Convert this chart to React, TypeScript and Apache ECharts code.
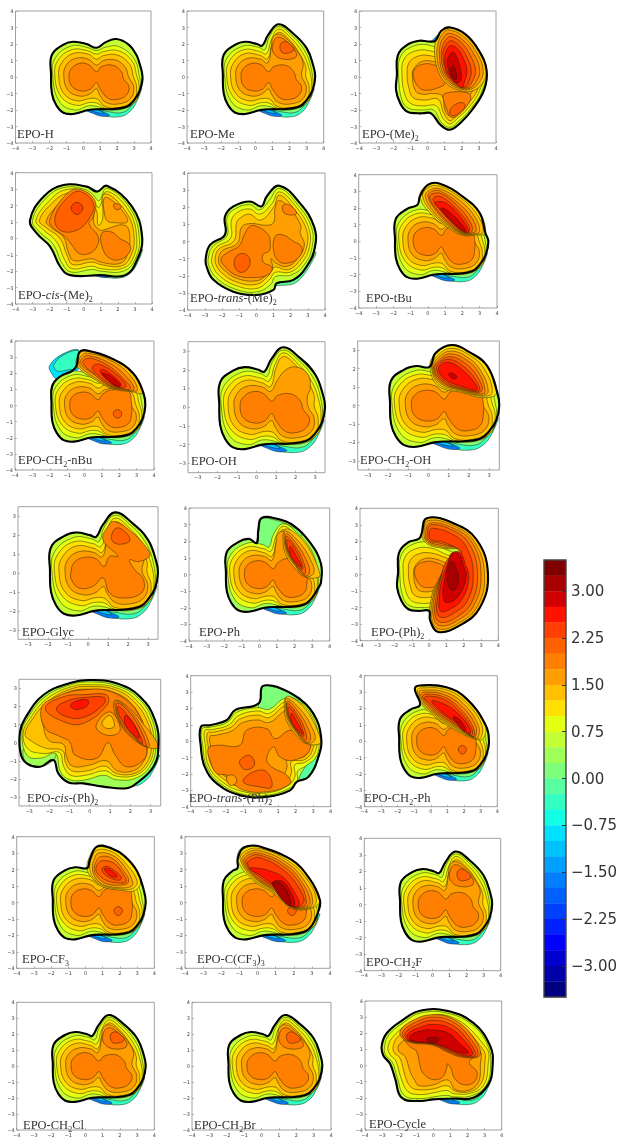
import React, { useEffect, useRef } from "react";
import * as echarts from "echarts";

type Pt = number[];
type Layer = [number, Pt[]];

const levelStarts = [3.25, 3, 2.75, 2.5, 2.25, 2, 1.75, 1.5, 1.25, 1, 0.75, 0.5, 0.25, 0, -0.25, -0.5, -0.75, -1, -1.25, -1.5, -1.75, -2, -2.25, -2.5, -2.75, -3, -3.25, -3.5];
const levelColors = ["#800000", "#a80000", "#d00000", "#ff1200", "#ff4000", "#ff6000", "#ff8000", "#ff9e00", "#ffc000", "#ffe000", "#e5ff12", "#c3ff34", "#a0ff57", "#7dff7a", "#57ffa0", "#34ffc3", "#12ffe5", "#00e0ff", "#00c0ff", "#00a0ff", "#0080ff", "#0060ff", "#0040ff", "#0020ff", "#0000ff", "#0000d0", "#0000a8", "#000080"];
const colorbarTicks = [3, 2.25, 1.5, 0.75, 0, -0.75, -1.5, -2.25, -3];
const ticks4 = [-4, -3, -2, -1, 0, 1, 2, 3, 4];
const ticks3 = [-3, -2, -1, 0, 1, 2, 3];

// under-crescent
const U0: Pt[] = [[0.3, -1.9], [0.6, -2.1], [1.2, -2.35], [2.2, -2.4], [2.75, -2.1], [3.1, -1.6], [3.45, -0.7], [3.3, -0.8], [2.5, -1.6], [1.5, -1.8], [0.6, -1.8]];
const U1: Pt[] = [[0.8, -1.9], [1.5, -2.1], [2.3, -2.15], [2.8, -1.8], [3.3, -1.0], [2.6, -1.6], [1.6, -1.8]];
const UB0: Pt[] = [[0.15, -1.98], [0.55, -2.2], [1.1, -2.38], [1.55, -2.32], [1.15, -2.1], [0.7, -1.95]];
const UB1: Pt[] = [[0.4, -1.98], [0.8, -2.15], [1.2, -2.2], [0.9, -2.0]];
const under: Layer[] = [[-0.5, U0], [0, U1], [-1.75, UB0], [-1.25, UB1]];

// two-lobe base
const B0: Pt[] = [[-1.9, 0.1], [-1.86, 1.33], [-1.2, 1.95], [-0.6, 2.14], [0.2, 2.0], [0.78, 1.77], [1.3, 2.1], [1.96, 2.3], [2.7, 1.95], [3.14, 1.33], [3.3, 0.9], [3.5, 0], [3.35, -0.8], [3.0, -1.4], [2.55, -1.8], [1.6, -1.95], [0.98, -1.95], [0.3, -2.0], [-0.6, -2.24], [-1.2, -2.15], [-1.6, -1.7], [-1.85, -1]];
const B1: Pt[] = [[-1.8, 0.06], [-1.65, 1.15], [-0.7, 1.88], [0.2, 1.8], [0.78, 1.6], [1.3, 1.8], [2.1, 1.85], [3.0, 1.1], [3.3, 0.1], [3.35, -0.7], [3.0, -1.55], [2.3, -1.95], [1.3, -1.95], [0.85, -1.8], [0.3, -1.75], [-0.5, -2.0], [-1.4, -1.5]];
const B2: Pt[] = [[-1.68, 0.06], [-1.5, 1.0], [-0.7, 1.65], [0.25, 1.6], [0.78, 1.38], [1.2, 1.55], [2.1, 1.58], [2.9, 0.95], [3.15, 0.1], [3.3, -0.6], [3.1, -1.45], [2.3, -1.9], [1.3, -1.9], [0.85, -1.6], [0.35, -1.55], [-0.4, -1.72], [-1.3, -1.2]];
const B3: Pt[] = [[-1.45, 0.06], [-1.28, 0.85], [-0.6, 1.42], [0.3, 1.38], [0.78, 1.08], [1.2, 1.3], [2.05, 1.32], [2.75, 0.75], [2.95, 0.05], [3.15, -0.6], [3.0, -1.4], [2.25, -1.82], [1.3, -1.8], [0.85, -1.35], [0.4, -1.3], [-0.35, -1.45], [-1.15, -1.0]];
const B4: Pt[] = [[-1.15, 0.06], [-1.0, 0.72], [-0.45, 1.13], [0.3, 1.08], [0.78, 0.72], [1.2, 1.0], [1.95, 1.02], [2.5, 0.55], [2.68, 0.0], [2.98, -0.6], [2.8, -1.3], [2.15, -1.62], [1.35, -1.55], [0.95, -1.05], [0.78, -0.72], [0.35, -1.05], [-0.25, -1.15], [-0.9, -0.8]];
const B5: Pt[] = [[-0.84, 0.06], [-0.69, 0.52], [-0.2, 0.83], [0.35, 0.73], [0.78, 0.32], [1.08, 0.63], [1.76, 0.71], [2.25, 0.32], [2.39, -0.14], [2.7, -0.58], [2.55, -1.09], [2.06, -1.35], [1.47, -1.29], [0.98, -0.69], [0.78, -0.34], [0.39, -0.75], [-0.2, -0.83], [-0.69, -0.54]];
const T5: Pt[] = [[-0.85, 0.05], [-0.7, 0.55], [-0.2, 0.82], [0.35, 0.73], [0.78, 0.35], [1.05, 0.7], [1.5, 0.95], [2.5, 0.9], [2.7, 0.2], [2.7, -0.58], [2.55, -1.09], [2.06, -1.35], [1.47, -1.29], [0.98, -0.69], [0.78, -0.34], [0.39, -0.75], [-0.2, -0.83], [-0.69, -0.54]];
const dot: Pt[] = [[1.65, -0.5], [1.9, -0.25], [2.15, -0.5], [1.9, -0.8]];
const baseRings: Layer[] = [[0.75, B1], [1, B2], [1.25, B3], [1.5, B4]];

// lobes with the upper right bump
const A0: Pt[] = [[-1.9, 0.1], [-1.86, 1.33], [-1.2, 1.95], [-0.6, 2.14], [0.1, 2.0], [0.4, 1.9], [0.75, 2.55], [1.35, 3.2], [2.2, 2.65], [3.0, 1.75], [3.4, 0.65], [3.5, 0], [3.35, -0.8], [3.0, -1.4], [2.55, -1.8], [1.6, -1.95], [0.98, -1.95], [0.3, -2.0], [-0.6, -2.24], [-1.2, -2.15], [-1.6, -1.7], [-1.85, -1]];
const A1: Pt[] = [[-1.8, 0.06], [-1.65, 1.15], [-0.7, 1.88], [0.2, 1.8], [0.55, 1.65], [0.8, 2.4], [1.35, 3.05], [2.1, 2.55], [2.85, 1.65], [3.25, 0.6], [3.35, -0.7], [3.0, -1.55], [2.3, -1.95], [1.3, -1.95], [0.85, -1.8], [0.3, -1.75], [-0.5, -2.0], [-1.4, -1.5]];
const A2: Pt[] = [[-1.68, 0.06], [-1.5, 1.0], [-0.7, 1.65], [0.25, 1.55], [0.65, 1.4], [0.95, 2.3], [1.35, 2.9], [2, 2.45], [2.75, 1.5], [3.15, 0.5], [3.3, -0.6], [3.1, -1.45], [2.3, -1.9], [1.3, -1.9], [0.85, -1.6], [0.35, -1.55], [-0.4, -1.72], [-1.3, -1.2]];
const A3: Pt[] = [[-1.45, 0.06], [-1.28, 0.85], [-0.6, 1.42], [0.3, 1.3], [0.72, 1.1], [1.0, 2.1], [1.35, 2.7], [1.95, 2.3], [2.6, 1.4], [2.95, 0.6], [2.95, 0.05], [3.15, -0.6], [3.0, -1.4], [2.25, -1.82], [1.3, -1.8], [0.85, -1.35], [0.4, -1.3], [-0.35, -1.45], [-1.15, -1.0]];
const A4: Pt[] = [[-1.15, 0.06], [-1.0, 0.72], [-0.45, 1.13], [0.3, 1.08], [0.72, 0.85], [0.95, 1.9], [1.0, 2.35], [1.35, 2.6], [1.95, 2.2], [2.55, 1.4], [2.8, 0.8], [2.7, 0.1], [2.98, -0.6], [2.8, -1.3], [2.15, -1.62], [1.35, -1.55], [0.95, -1.05], [0.78, -0.72], [0.35, -1.05], [-0.25, -1.15], [-0.9, -0.8]];
const A5: Pt[] = [[1.0, 1.9], [1.3, 2.4], [1.9, 2.1], [2.4, 1.45], [2.3, 1.15], [1.55, 1.1], [1.1, 1.4]];
const A6: Pt[] = [[1.45, 1.95], [1.7, 2.15], [2.0, 2.0], [2.25, 1.65], [1.9, 1.45], [1.55, 1.5]];
const bumpRings: Layer[] = [[0.75, A1], [1, A2], [1.25, A3], [1.5, A4]];

const G5: Pt[] = [[-0.85, 0.05], [-0.7, 0.55], [-0.2, 0.82], [0.4, 0.75], [0.8, 0.35], [1.08, 0.88], [1.5, 0.88], [0.75, 1.75], [1, 2.46], [1.33, 2.72], [2.25, 2.1], [3, 1.23], [3.08, 0.88], [2.5, 0.6], [2.08, 0.7], [2.33, 0.18], [2.78, -0.35], [2.67, -1.05], [1.75, -1.32], [1.08, -1.05], [0.75, -0.26], [0.25, -0.7], [-0.42, -0.8], [-0.83, -0.35]];
const G6: Pt[] = [[1.17, 1.93], [1.42, 2.37], [1.83, 2.2], [2.1, 1.75], [1.83, 1.55], [1.33, 1.58]];
const OH4: Pt[] = [[-1.15, 0.06], [-1.0, 0.72], [-0.45, 1.13], [0.3, 1.08], [0.72, 0.85], [1.1, 1.5], [1.5, 2.0], [2.0, 2.15], [2.6, 1.8], [2.75, 1.0], [2.6, 0.6], [2.65, 0.0], [2.95, -0.6], [2.8, -1.3], [2.15, -1.62], [1.35, -1.55], [0.95, -1.05], [0.78, -0.72], [0.35, -1.05], [-0.25, -1.15], [-0.9, -0.8]];

// EPO-(Me)2 and EPO-(Ph)2 left part
const D0: Pt[] = [[-1.8, 0.1], [-1.75, 1.3], [-1.2, 1.95], [-0.5, 2.2], [0.1, 2.15], [0.45, 2.2], [0.8, 2.8], [1.3, 3.0], [2.2, 2.6], [3, 1.6], [3.45, 0.4], [3.3, -0.8], [2.6, -2], [1.9, -2.8], [1.3, -3.2], [0.75, -2.9], [0.2, -2.2], [-0.3, -2.2], [-0.6, -2.2], [-1.2, -2.1], [-1.6, -1.6], [-1.85, -0.8]];
const D1: Pt[] = [[-1.7, 0.1], [-1.6, 1.2], [-1, 1.8], [0, 1.95], [1, 1.5], [3.3, 0.4], [3.2, -0.8], [2.5, -1.95], [1.8, -2.7], [1.3, -3.05], [0.8, -2.75], [0.35, -2], [-0.3, -2], [-1.1, -1.9], [-1.5, -1.4]];
const D2: Pt[] = [[-1.5, 0.1], [-1.4, 1.05], [-0.8, 1.55], [0.1, 1.6], [1, 1.2], [3.2, 0.3], [3.05, -0.8], [2.4, -1.85], [1.7, -2.55], [1.3, -2.85], [0.9, -2.5], [0.5, -1.75], [-0.3, -1.75], [-1, -1.6], [-1.35, -1]];
const D3: Pt[] = [[-1.2, 0.1], [-1.1, 0.85], [-0.6, 1.25], [0.1, 1.3], [1, 1], [3.1, 0.2], [2.9, -0.8], [2.3, -1.7], [1.65, -2.4], [1.3, -2.65], [0.95, -2.2], [0.6, -1.35], [-0.2, -1.4], [-0.85, -1.25], [-1.1, -0.65]];
const D4: Pt[] = [[-0.9, 0.1], [-0.75, 0.6], [-0.3, 0.95], [0.3, 0.95], [1, 0.7], [3, 0.1], [2.7, -0.7], [2.2, -1.5], [1.6, -2.2], [1.25, -2.35], [1, -1.95], [0.85, -1.15], [0.3, -1.0], [-0.25, -1.05], [-0.7, -0.85]];
const D5: Pt[] = [[-0.85, 0.1], [-0.7, 0.55], [-0.25, 0.78], [0.3, 0.75], [0.9, 0.4], [1, -0.4], [0.6, -0.65], [0, -0.8], [-0.5, -0.65]];
const D6: Pt[] = [[0.9, -1.2], [1, -1.0], [2, -0.9], [2.5, -1.1], [2.4, -1.6], [1.8, -2.3], [1.4, -2.45], [1.15, -2.05]];
const D7: Pt[] = [[1.3, -2.1], [1.5, -1.75], [2.0, -1.55], [2.2, -1.75], [1.8, -2.2], [1.45, -2.35]];
const DB: Pt[] = [[0.2, 2.1], [0.35, 2.3], [0.7, 2.6], [0.7, 2.0]];

const E0: Pt[] = [[0.43, 1.2], [0.45, 2.1], [0.8, 2.8], [1.25, 3.05], [2.2, 2.6], [3, 1.6], [3.45, 0.4], [3.2, -0.4], [2.6, -0.85], [1.8, -0.8], [1, -0.3], [0.6, 0.4]];
const E1: Pt[] = [[0.55, 1.2], [0.6, 2], [0.9, 2.65], [1.25, 2.85], [2.1, 2.45], [2.85, 1.5], [3.25, 0.4], [3, -0.35], [2.5, -0.75], [1.8, -0.7], [1.05, -0.2], [0.7, 0.45]];
const E2: Pt[] = [[0.7, 1.2], [0.72, 1.9], [1, 2.5], [1.3, 2.65], [2, 2.3], [2.7, 1.4], [3.05, 0.4], [2.8, -0.35], [2.4, -0.7], [1.8, -0.62], [1.1, -0.1], [0.8, 0.5]];
const E3: Pt[] = [[0.8, 1.2], [0.85, 1.8], [1.1, 2.3], [1.35, 2.45], [1.95, 2.1], [2.5, 1.3], [2.8, 0.4], [2.6, -0.3], [2.3, -0.65], [1.8, -0.55], [1.15, 0], [0.9, 0.55]];
const E4: Pt[] = [[0.9, 1.2], [0.95, 1.7], [1.2, 2.1], [1.4, 2.2], [1.85, 1.9], [2.3, 1.2], [2.55, 0.4], [2.4, -0.3], [2.2, -0.6], [1.8, -0.5], [1.2, 0.05], [1, 0.6]];
const E5: Pt[] = [[1.0, 1.1], [1.1, 1.6], [1.35, 1.9], [1.75, 1.7], [2.1, 1.1], [2.3, 0.4], [2.15, -0.3], [2, -0.65], [1.7, -0.4], [1.25, 0.1], [1.05, 0.6]];
const E6: Pt[] = [[1.15, 1.0], [1.3, 1.35], [1.5, 1.5], [1.75, 1.1], [1.95, 0.3], [1.95, -0.2], [1.7, -0.35], [1.35, 0.05], [1.2, 0.55]];
const E7: Pt[] = [[1.35, 0.5], [1.45, 0.7], [1.6, 0.5], [1.7, -0.1], [1.5, -0.1], [1.38, 0.15]];

// EPO-CF3
const CFS: Pt[] = [[-1.9, 0.1], [-1.86, 1.33], [-1.2, 1.95], [-0.6, 2.14], [0.1, 2.1], [0.25, 2.6], [0.66, 3.4], [1.5, 3.3], [2.3, 2.8], [3.0, 1.9], [3.4, 0.7], [3.5, 0], [3.35, -0.8], [3, -1.4], [2.55, -1.8], [1.6, -1.95], [0.98, -1.95], [0.3, -2], [-0.6, -2.24], [-1.2, -2.15], [-1.6, -1.7], [-1.85, -1]];
const CF0: Pt[] = [[0.1, 2.0], [0.2, 2.7], [0.65, 3.35], [1.6, 3.2], [2.5, 2.5], [3.2, 1.4], [2.9, 0.75], [2, 0.75], [1, 0.95], [0.45, 1.4]];
const CF1: Pt[] = [[0.25, 2], [0.35, 2.7], [0.7, 3.2], [1.6, 3.05], [2.4, 2.3], [3, 1.3], [2.75, 0.85], [2, 0.82], [1, 1.02], [0.5, 1.45]];
const CF2: Pt[] = [[0.4, 2.1], [0.5, 2.6], [0.75, 3.0], [1.6, 2.85], [2.3, 2.15], [2.75, 1.2], [2.6, 0.95], [1.9, 0.9], [1, 1.1], [0.55, 1.55]];
const CF3: Pt[] = [[0.5, 2], [0.6, 2.45], [0.9, 2.8], [1.6, 2.65], [2.2, 1.95], [2.5, 1.25], [1.9, 1.05], [1.1, 1.2], [0.65, 1.6]];
const CF4: Pt[] = [[0.6, 2], [0.75, 2.4], [1.1, 2.55], [1.7, 2.35], [2.2, 1.7], [2.35, 1.25], [1.8, 1.2], [1.2, 1.35], [0.8, 1.65]];
const CF5: Pt[] = [[0.95, 2.05], [1.2, 2.2], [1.6, 2], [2.1, 1.5], [1.9, 1.35], [1.35, 1.55], [1.05, 1.8]];
const CF6: Pt[] = [[1.1, 2.05], [1.35, 2.05], [1.85, 1.6], [1.6, 1.55], [1.25, 1.8]];

// EPO-CH2-nBu
const NS: Pt[] = [[-1.9, 0.1], [-1.86, 1.2], [-1.4, 1.8], [-0.7, 2.15], [-0.45, 2.5], [-0.3, 3.3], [0.1, 3.42], [1.6, 2.9], [2.8, 2], [3.4, 0.75], [3.5, 0], [3.35, -0.8], [3, -1.4], [2.55, -1.8], [1.6, -1.95], [0.98, -1.95], [0.3, -2], [-0.6, -2.24], [-1.2, -2.15], [-1.6, -1.7], [-1.85, -1]];
const TB0: Pt[] = [[-2, 2.5], [-1.9, 2], [-1.5, 1.6], [-1, 1.95], [-0.4, 2.2], [-0.3, 3.4], [-1.15, 3.25]];
const TB1: Pt[] = [[-1.75, 2.55], [-1.6, 2.15], [-1, 2.2], [-0.4, 2.4], [-0.3, 3.35], [-1.1, 3.2]];
const N0: Pt[] = [[-0.45, 2.5], [-0.3, 3.2], [0.1, 3.4], [1.6, 2.9], [2.8, 2], [3.35, 0.8], [2.7, 0.85], [1.6, 1.05], [0.5, 1.67]];
const N1: Pt[] = [[-0.35, 2.55], [-0.2, 3.05], [0.15, 3.25], [1.5, 2.8], [2.6, 1.9], [3.05, 0.95], [2.6, 0.92], [1.6, 1.1], [0.55, 1.75]];
const N2: Pt[] = [[-0.25, 2.6], [-0.1, 2.95], [0.2, 3.1], [1.4, 2.65], [2.4, 1.8], [2.85, 0.98], [2.2, 1], [1.5, 1.2], [0.65, 1.85]];
const N3: Pt[] = [[-0.1, 2.65], [0.1, 2.9], [0.5, 2.9], [1.4, 2.45], [2.2, 1.7], [2.65, 1.05], [1.9, 1.1], [1.2, 1.4], [0.5, 2]];
const N4: Pt[] = [[0.45, 2.3], [0.6, 2.55], [1, 2.5], [1.75, 2], [2.4, 1.25], [2.1, 1.1], [1.3, 1.45], [0.7, 1.95]];
const N5: Pt[] = [[0.9, 2.1], [1, 2.25], [1.5, 1.95], [2.1, 1.35], [2, 1.15], [1.4, 1.5]];
const N6: Pt[] = [[1.0, 2.0], [1.6, 1.75], [2.05, 1.25], [1.85, 1.2], [1.3, 1.65]];

// EPO-CH2-OH
const HS: Pt[] = [[-1.9, 0.1], [-1.86, 1.33], [-1.2, 1.95], [-0.6, 2.14], [0.05, 2.1], [0.35, 2.85], [1.14, 3.28], [2.05, 2.88], [2.9, 2.15], [3.4, 0.7], [3.5, 0], [3.35, -0.8], [3, -1.4], [2.55, -1.8], [1.6, -1.95], [0.98, -1.95], [0.3, -2], [-0.6, -2.24], [-1.2, -2.15], [-1.6, -1.7], [-1.85, -1]];
const H0: Pt[] = [[0.07, 2.13], [0.35, 2.8], [1.14, 3.25], [2.05, 2.86], [2.87, 2.13], [3.37, 0.7], [2.7, 0.42], [1.72, 0.69], [0.5, 1.05]];
const H1: Pt[] = [[0.15, 2.1], [0.45, 2.7], [1.1, 3.1], [2, 2.75], [2.75, 2], [3.15, 0.7], [2.65, 0.5], [1.7, 0.75], [0.55, 1.12]];
const H2: Pt[] = [[0.2, 2.05], [0.5, 2.6], [1.1, 2.95], [1.95, 2.6], [2.6, 1.85], [2.95, 0.75], [2.6, 0.55], [1.7, 0.8], [0.6, 1.2]];
const H3: Pt[] = [[0.25, 2], [0.55, 2.5], [1.1, 2.8], [1.9, 2.45], [2.5, 1.75], [2.8, 0.75], [2.55, 0.62], [1.7, 0.85], [0.65, 1.25]];
const H4: Pt[] = [[0.3, 2], [0.55, 2.4], [1.1, 2.65], [1.8, 2.3], [2.4, 1.6], [2.62, 0.78], [1.7, 0.88], [0.7, 1.3]];
const H5: Pt[] = [[0.4, 1.95], [0.55, 2.3], [1.05, 2.5], [1.7, 2.15], [2.3, 1.45], [2.5, 0.8], [1.75, 0.92], [0.75, 1.35]];
const H6: Pt[] = [[0.5, 1.9], [0.6, 2.2], [1, 2.35], [1.6, 2], [2.2, 1.35], [2.4, 0.85], [1.8, 0.98], [0.85, 1.4]];
const H7: Pt[] = [[1, 1.7], [1.2, 1.75], [1.4, 1.55], [1.2, 1.45]];

// EPO-tBu
const TS: Pt[] = [[-1.9, 0.1], [-1.86, 1.33], [-1.2, 1.95], [-0.6, 2.2], [-0.46, 2.7], [0.02, 3.4], [0.7, 3.46], [2, 2.7], [3, 1.7], [3.33, 0.5], [3.5, 0], [3.35, -0.8], [3, -1.4], [2.55, -1.8], [1.6, -1.95], [0.98, -1.95], [0.3, -2], [-0.6, -2.24], [-1.2, -2.15], [-1.6, -1.7], [-1.85, -1]];
const L0: Pt[] = [[-0.46, 2.7], [0, 3.4], [0.7, 3.46], [2, 2.7], [3, 1.7], [3.33, 0.5], [2.8, 0.38], [1.94, 0.38], [1.08, 0.88], [0.3, 1.5]];
const L1: Pt[] = [[-0.3, 2.7], [0.05, 3.25], [0.7, 3.3], [1.9, 2.6], [2.85, 1.6], [3.2, 0.55], [2.7, 0.42], [1.95, 0.42], [1.1, 0.95], [0.35, 1.6]];
const L2: Pt[] = [[-0.15, 2.7], [0.15, 3.1], [0.7, 3.15], [1.85, 2.45], [2.7, 1.5], [3, 0.6], [2.65, 0.45], [2, 0.45], [1.15, 1], [0.4, 1.7]];
const L3: Pt[] = [[0, 2.7], [0.25, 3], [0.7, 3.02], [1.75, 2.3], [2.55, 1.4], [2.8, 0.65], [2.55, 0.5], [2, 0.5], [1.2, 1.05], [0.5, 1.8]];
const L4: Pt[] = [[0.1, 2.65], [0.35, 2.88], [0.8, 2.85], [1.65, 2.2], [2.4, 1.25], [2.55, 0.6], [2.05, 0.52], [1.25, 1.1], [0.55, 1.85]];
const L5: Pt[] = [[0.3, 2.5], [0.5, 2.7], [0.9, 2.6], [1.6, 2], [2.3, 1.1], [2.4, 0.6], [2.05, 0.58], [1.3, 1.2], [0.65, 1.95]];
const L6: Pt[] = [[0.4, 2.3], [0.7, 2.4], [1.2, 2.2], [2, 1.3], [2.35, 0.6], [2.05, 0.6], [1.35, 1.2], [0.75, 1.9]];
const L7: Pt[] = [[0.75, 1.95], [0.85, 2], [1.2, 1.8], [1.9, 1.1], [2.2, 0.62], [1.9, 0.72], [1.4, 1.2]];

// EPO-Ph
const PS: Pt[] = [[-1.9, 0.1], [-1.86, 1.33], [-1.2, 1.95], [-0.6, 2.14], [-0.15, 1.9], [-0.06, 2.7], [0.13, 3.4], [1, 3.35], [2, 2.9], [2.9, 1.9], [3.5, 0.66], [3.5, -0.5], [3.35, -0.8], [3, -1.4], [2.55, -1.8], [1.6, -1.95], [0.98, -1.95], [0.3, -2], [-0.6, -2.24], [-1.2, -2.15], [-1.6, -1.7], [-1.85, -1]];
const P1: Pt[] = [[-0.1, 1.9], [0, 2.7], [0.13, 3.35], [0.8, 3.3], [1.6, 3], [2.4, 2.4], [1.5, 1.8], [0.5, 1.6]];
const PL0: Pt[] = [[1.45, 2.7], [1.9, 2.6], [2.6, 1.9], [3.1, 1], [3.4, 0.2], [3.4, -0.15], [2.6, -0.15], [2, 0.4], [1.5, 1.2], [1.35, 2]];
const PL1: Pt[] = [[1.5, 2.6], [2.3, 1.9], [2.9, 0.9], [3.1, 0.1], [2.6, -0.12], [2.05, 0.5], [1.6, 1.2], [1.42, 2]];
const PL2: Pt[] = [[1.55, 2.45], [2.15, 1.8], [2.7, 0.8], [2.85, 0.1], [2.6, -0.08], [2.1, 0.5], [1.65, 1.25], [1.48, 1.95]];
const PL3: Pt[] = [[1.55, 2.3], [2.05, 1.7], [2.5, 0.8], [2.6, 0.05], [2.15, 0.5], [1.7, 1.25], [1.52, 1.85]];
const PL4: Pt[] = [[1.6, 2.1], [2, 1.6], [2.4, 0.7], [2.45, 0.3], [2.15, 0.55], [1.75, 1.2], [1.58, 1.75]];
const PL5: Pt[] = [[1.75, 1.7], [2.1, 1.1], [2.4, 0.45], [2.2, 0.6], [1.8, 1.1]];

// EPO-(Ph)2
const QS: Pt[] = [[-1.8, 0.1], [-1.75, 1.3], [-1.2, 1.95], [-0.6, 2.15], [-0.43, 2.5], [-0.14, 3.4], [1.4, 3.1], [2.75, 2.1], [3.4, 0.05], [2.94, -2], [1.8, -3.06], [0.53, -3.47], [0.05, -2.76], [0.0, -2.2], [-0.6, -2.2], [-1.2, -2.1], [-1.6, -1.6], [-1.85, -0.8]];
const Q0: Pt[] = [[-0.43, 2.5], [-0.14, 3.4], [1.4, 3.1], [2.75, 2.1], [3.4, 0.05], [2.94, -2], [1.8, -3.06], [0.53, -3.47], [0.05, -2.76], [0.14, -1.35], [0.43, -0.54], [1.1, 0.66], [1.69, 1.47], [0.82, 1.57], [-0.14, 1.87]];
const Q1: Pt[] = [[-0.3, 2.5], [-0.05, 3.25], [1.4, 2.95], [2.6, 2], [3.2, 0.05], [2.8, -1.9], [1.7, -2.95], [0.6, -3.3], [0.15, -2.7], [0.22, -1.35], [0.5, -0.5], [1.1, 0.7], [1.8, 1.5], [0.8, 1.65], [-0.1, 1.95]];
const Q2: Pt[] = [[-0.2, 2.5], [0.05, 3.1], [1.4, 2.8], [2.5, 1.9], [3, 0.05], [2.6, -1.85], [1.6, -2.8], [0.65, -3.1], [0.25, -2.6], [0.3, -1.35], [0.55, -0.45], [1.1, 0.75], [1.9, 1.55], [0.8, 1.75], [-0.05, 2]];
const Q3: Pt[] = [[-0.1, 2.5], [0.1, 3], [1.4, 2.65], [2.35, 1.8], [2.8, 0.05], [2.45, -1.7], [1.55, -2.6], [0.7, -2.9], [0.35, -2.5], [0.4, -1.35], [0.6, -0.4], [1.1, 0.85], [1.9, 1.4], [0.8, 1.85], [0, 2.05]];
const Q4: Pt[] = [[0, 2.55], [0.2, 2.8], [1.4, 2.4], [2.15, 1.65], [2.55, 0.05], [2.2, -1.6], [1.4, -2.35], [0.75, -2.6], [0.45, -2.3], [0.5, -1.35], [0.65, -0.35], [1.1, 0.95], [1.9, 1.3], [0.85, 1.95], [0.1, 2.1]];
const Q5: Pt[] = [[1.3, 1.3], [1.8, 1.3], [2.1, 0.6], [2.3, -0.2], [1.9, -1.5], [1.2, -2.1], [0.65, -2.2], [0.6, -1.2], [0.75, -0.3], [1.1, 0.75]];
const Q6: Pt[] = [[1.35, 1.25], [1.75, 1.2], [2, 0.5], [2.15, -0.1], [1.7, -1.3], [1.0, -1.7], [0.8, -1.2], [0.9, -0.3], [1.1, 0.6]];
const Q7: Pt[] = [[1.3, 0.8], [1.55, 0.4], [1.7, -0.2], [1.5, -0.9], [1.2, -0.85], [1.05, -0.1]];

// EPO-CH2-Ph
const CS: Pt[] = [[-1.9, 0.1], [-1.86, 1.33], [-1.2, 1.95], [-0.7, 2.14], [-0.66, 2.4], [-0.96, 3.2], [-0.66, 3.4], [0.94, 3.3], [2.14, 2.6], [3.25, 1.08], [3.5, 0], [3.35, -0.8], [3, -1.4], [2.55, -1.8], [1.6, -1.95], [0.98, -1.95], [0.3, -2], [-0.6, -2.24], [-1.2, -2.15], [-1.6, -1.7], [-1.85, -1]];
const C0: Pt[] = [[-0.96, 3.2], [-0.66, 3.4], [0.94, 3.3], [2.14, 2.6], [3.25, 1.08], [3.15, 0.16], [2.64, 0.14], [1.34, 0.75], [0.14, 1.58], [-0.66, 2.4]];
const C1: Pt[] = [[-0.8, 3.1], [-0.6, 3.25], [0.9, 3.15], [2.05, 2.45], [3.05, 1.05], [3, 0.2], [2.62, 0.18], [1.36, 0.82], [0.18, 1.65], [-0.6, 2.45]];
const C2: Pt[] = [[-0.7, 3], [-0.5, 3.12], [0.85, 3], [1.95, 2.3], [2.85, 1.0], [2.85, 0.25], [2.6, 0.22], [1.4, 0.88], [0.22, 1.7], [-0.55, 2.5]];
const C3: Pt[] = [[-0.6, 2.85], [-0.4, 3], [0.8, 2.85], [1.85, 2.15], [2.7, 0.95], [2.7, 0.3], [2.55, 0.27], [1.45, 0.95], [0.28, 1.75], [-0.45, 2.5]];
const C4: Pt[] = [[-0.5, 2.75], [-0.25, 2.88], [0.8, 2.7], [1.75, 2], [2.55, 0.85], [2.55, 0.28], [1.5, 1], [0.35, 1.8], [-0.35, 2.5]];
const C5: Pt[] = [[-0.4, 2.65], [-0.1, 2.75], [0.8, 2.55], [1.7, 1.85], [2.45, 0.8], [2.45, 0.35], [1.55, 1.05], [0.45, 1.85], [-0.2, 2.45]];
const C6: Pt[] = [[0.05, 2.45], [0.6, 2.35], [1.4, 1.9], [2.25, 0.95], [2.35, 0.45], [1.6, 1.1], [0.6, 1.85]];
const C7: Pt[] = [[1.35, 1.5], [1.7, 1.35], [2.1, 0.75], [2, 0.6], [1.55, 1.15]];

// EPO-C(CF3)3
const KS: Pt[] = [[-1.9, 0.1], [-1.86, 1.33], [-1.4, 1.9], [-1.1, 2.1], [-1.1, 2.6], [-0.85, 3.25], [-0.4, 3.45], [0.13, 3.4], [1.87, 2.6], [2.9, 1.4], [3.44, 0.16], [3.4, -0.4], [3.0, -1.4], [2.55, -1.8], [1.6, -1.95], [0.98, -1.95], [0.3, -2], [-0.6, -2.24], [-1.2, -2.15], [-1.6, -1.7], [-1.85, -1]];
const KT: Pt[] = [[-1.1, 2.6], [-0.95, 3.25], [-0.4, 3.45], [0, 3.4], [-0.7, 3]];
const K0: Pt[] = [[-1.1, 2.6], [-0.85, 3.2], [0.13, 3.4], [1.87, 2.6], [2.9, 1.4], [3.44, 0.16], [3, -0.34], [1.87, -0.34], [0.9, 0.55], [-0.25, 1.36]];
const K1: Pt[] = [[-0.95, 2.6], [-0.7, 3.1], [0.13, 3.28], [1.8, 2.45], [2.8, 1.3], [3.25, 0.15], [2.95, -0.3], [1.9, -0.3], [0.95, 0.6], [-0.2, 1.42]];
const K2: Pt[] = [[-0.85, 2.55], [-0.6, 3], [0.13, 3.15], [1.7, 2.35], [2.65, 1.2], [3.05, 0.15], [2.85, -0.28], [1.9, -0.27], [1, 0.65], [-0.15, 1.48]];
const K3: Pt[] = [[-0.75, 2.5], [-0.5, 2.9], [0.13, 3], [1.6, 2.25], [2.5, 1.15], [2.9, 0.1], [2.7, -0.25], [1.9, -0.25], [1, 0.7], [-0.1, 1.52]];
const K4: Pt[] = [[-0.65, 2.45], [-0.4, 2.8], [0.13, 2.88], [1.5, 2.15], [2.4, 1.05], [2.7, 0.05], [2.55, -0.22], [1.9, -0.22], [1.05, 0.75], [-0.05, 1.55]];
const K5: Pt[] = [[-0.55, 2.35], [-0.3, 2.65], [0.15, 2.72], [1.4, 2], [2.25, 0.95], [2.55, 0], [1.9, -0.2], [1.1, 0.8], [0.05, 1.6]];
const K6: Pt[] = [[-0.45, 2.05], [-0.1, 2.1], [0.6, 1.95], [1.4, 1.55], [2, 0.7], [2.3, -0.15], [1.9, -0.2], [1.1, 0.85], [0.15, 1.65]];
const K7: Pt[] = [[0.8, 1.2], [1.35, 1.3], [1.85, 0.6], [2.05, -0.18], [1.75, -0.2], [1.0, 0.85]];
const K8: Pt[] = [[0.85, 1.2], [1.3, 1.15], [1.7, 0.5], [1.8, -0.18], [1.4, 0.1], [0.95, 0.85]];

// EPO-Cycle
const Y0: Pt[] = [[-3.02, 1.23], [-2.73, 2], [-1.76, 2.84], [-0.78, 3.4], [0.78, 3.4], [2.34, 2.64], [3.32, 1.23], [3.47, 0], [3.2, -1.2], [2.34, -2], [1.2, -2.05], [0, -2.1], [-0.78, -2.2], [-1.85, -2], [-2.24, -0.8], [-2.54, 0.12], [-2.93, 0.62]];
const Y1: Pt[] = [[-2.85, 1.2], [-2.6, 1.9], [-1.7, 2.7], [-0.78, 3.25], [0.8, 3.25], [2.3, 2.5], [3.2, 1.2], [3.35, 0], [3.1, -1.2], [2.3, -1.85], [1.2, -1.95], [0.8, -1.85], [0, -1.95], [-0.8, -2.05], [-1.7, -1.85], [-2.1, -0.8], [-2.4, 0.2], [-2.8, 0.65]];
const Y2: Pt[] = [[-2.65, 1.2], [-2.3, 1.85], [-1.5, 2.5], [0.8, 3.1], [3.1, 1.1], [3.2, 0], [2.95, -1.2], [2.25, -1.7], [1.2, -1.75], [0.8, -1.55], [0, -1.7], [-0.85, -1.8], [-1.5, -1.6], [-1.9, -0.75], [-2.2, 0.3], [-2.55, 0.7]];
const Y3: Pt[] = [[-2.35, 1.2], [-2.1, 1.75], [-1.3, 2.4], [0.8, 3], [2.9, 1], [3, 0], [2.8, -1.1], [2.2, -1.6], [1.3, -1.6], [0.8, -1.25], [0, -1.45], [-0.9, -1.5], [-1.35, -1.3], [-1.65, -0.65], [-1.95, 0.45], [-2.3, 0.8]];
const Y4: Pt[] = [[-2.05, 1.2], [-1.8, 1.5], [-1.1, 2.2], [0.8, 2.8], [2.7, 0.95], [2.75, 0], [2.65, -1], [2.15, -1.5], [1.3, -1.5], [0.85, -0.9], [0, -1.2], [-0.85, -1.25], [-1.1, -0.9], [-1.35, -0.4], [-1.65, 0.55], [-2, 0.85]];
const Y5: Pt[] = [[-1.75, 1.9], [-1.4, 1.2], [-1.0, 0.9], [-0.8, 0.1], [-0.65, -0.4], [-0.1, -0.85], [0.5, -0.75], [0.8, -0.1], [0.8, 0.1], [1.0, -0.1], [1.25, -0.8], [1.8, -1.2], [2.4, -1], [2.55, -0.4], [2.1, 0.2], [2.6, 0.8], [1, 2], [-0.5, 2.4]];
const Ly0: Pt[] = [[-1.95, 2.1], [-1.1, 2.85], [0, 3.15], [1.2, 2.85], [2.3, 1.8], [2.73, 0.65], [1.76, 0.5], [0.8, 0.85], [0, 1.25], [-1.55, 1.5]];
const Ly1: Pt[] = [[-1.8, 2.05], [-1, 2.7], [0, 3], [1.15, 2.7], [2.15, 1.7], [2.6, 0.65], [1.76, 0.55], [0.8, 0.9], [0, 1.3], [-1.5, 1.53]];
const Ly2: Pt[] = [[-1.65, 2], [-0.9, 2.55], [0, 2.8], [1.1, 2.5], [2, 1.6], [2.45, 0.65], [1.76, 0.6], [0.85, 0.95], [0, 1.33], [-1.45, 1.55]];
const Ly3: Pt[] = [[-1.5, 1.95], [-0.8, 2.35], [0, 2.55], [1, 2.3], [1.85, 1.5], [2.3, 0.7], [1.76, 0.65], [0.9, 1.0], [0, 1.35], [-1.4, 1.55]];
const Ly4: Pt[] = [[-1.35, 1.85], [-0.7, 2.15], [0, 2.2], [0.9, 2.0], [1.5, 1.4], [2.05, 0.8], [1.4, 0.85], [0.85, 1.1], [0, 1.38], [-1.3, 1.55]];
const Ly5: Pt[] = [[-0.4, 1.65], [0, 1.75], [0.3, 1.7], [0.25, 1.5], [-0.1, 1.45]];

// EPO-cis-(Me)2
const S0: Pt[] = [[-3.15, 1.1], [-2.36, 2.54], [-1.18, 3.25], [0.18, 3.15], [0.78, 2.85], [1.36, 3.2], [2.83, 1.93], [3.42, 0.1], [3.13, -1.3], [2.44, -2.24], [0.97, -2.24], [-0.8, -2.24], [-1.38, -1.73], [-1.97, -0.5], [-2.75, 0.3]];
const S1: Pt[] = [[-3, 1.1], [-2.2, 2.45], [-1.15, 3.1], [0, 3], [0.5, 2.7], [0.9, 2.3], [1.35, 3.05], [2.7, 1.85], [3.25, 0.1], [3.0, -1.3], [2.3, -2], [1, -2], [0.5, -1.9], [-0.75, -2.05], [-1.25, -1.55], [-1.8, -0.35], [-2.6, 0.4]];
const S2: Pt[] = [[-2.8, 1.1], [-2, 2.3], [-1.1, 2.95], [0, 2.85], [0.65, 2.1], [0.9, 1.9], [1.35, 2.85], [2.6, 1.75], [3.1, 0.1], [2.85, -1.3], [2.2, -1.85], [1, -1.85], [0.5, -1.7], [-0.7, -1.85], [-1.1, -1.35], [-1.6, -0.2], [-2.4, 0.55]];
const S3: Pt[] = [[-2.6, 1.1], [-1.8, 2.2], [-1, 2.75], [-0.1, 2.7], [0.7, 1.8], [0.85, 0.8], [1.1, 1.15], [1.2, 2.7], [2.45, 1.65], [2.95, 0.1], [2.7, -1.2], [2.15, -1.7], [1, -1.6], [0.5, -1.45], [-0.65, -1.6], [-0.95, -1.1], [-1.4, 0], [-2.2, 0.65]];
const S4: Pt[] = [[-2.2, 1.05], [-1.5, 2.05], [-0.8, 2.6], [-0.1, 2.5], [0.55, 1.8], [0.6, 0.9], [0.95, 0.5], [1.1, 0.5], [2.4, 0.8], [2.7, 0.1], [2.5, -1.15], [2.05, -1.55], [1, -1.45], [0.5, -1.25], [-0.6, -1.35], [-0.9, -0.85], [-1.2, 0.1], [-1.9, 0.65]];
const S5: Pt[] = [[-2.0, 1.1], [-1.1, 2.6], [-0.3, 3.0], [0.65, 2.3], [0.55, 1.3], [0.3, 0.9], [0.85, 0.1], [0.75, -0.55], [0.25, -0.95], [-0.3, -0.9], [-0.7, -0.4], [-1.1, 0.1], [-1.7, 0.55]];
const S5b: Pt[] = [[1.05, 0.3], [1.6, 0.4], [2.1, 0], [2.7, -0.4], [2.65, -0.9], [2.1, -1.3], [1.5, -1.2], [1.1, -0.6]];
const S5c: Pt[] = [[1.2, 2.45], [1.6, 2.35], [2.4, 1.5], [2.55, 1], [1.9, 0.95], [1.4, 1.05], [1.2, 1.6]];
const S5d: Pt[] = [[1.75, 2.05], [2, 2.1], [2.2, 1.9], [1.9, 1.75]];
const S6: Pt[] = [[-1.68, 1.3], [-0.9, 2.54], [-0.2, 2.85], [0.57, 2.13], [0.38, 1.32], [-0.4, 0.5], [-1.38, 0.5]];
const S7: Pt[] = [[-0.75, 1.85], [-0.4, 2.2], [-0.05, 1.85], [-0.4, 1.45]];
const SB: Pt[] = [[0.18, 3.1], [0.5, 3.05], [0.78, 2.8], [0.4, 2.7]];

// EPO-trans-(Me)2
const R0: Pt[] = [[-2.95, -1], [-2.7, -0.2], [-1.83, 0.4], [-1.83, 1.46], [-1.34, 2.05], [-0.37, 2.34], [0.3, 2.05], [0.6, 2.63], [1.34, 3.26], [2.54, 2.24], [3.36, 0.88], [3.42, -0.3], [2.93, -1.46], [2.16, -2.24], [1.18, -2.44], [1, -2.83], [0, -3.12], [-1.34, -2.93], [-2.5, -2.24], [-2.9, -1.46]];
const R1: Pt[] = [[-2.8, -1], [-2.55, -0.3], [-1.7, 0.35], [-1.7, 1.4], [-1.25, 1.9], [-0.4, 2.15], [0.2, 1.85], [0.75, 2.4], [1.34, 3.1], [2.4, 2.15], [3.2, 0.85], [3.25, -0.3], [2.8, -1.35], [2.05, -1.95], [1.1, -2.05], [0.85, -2.5], [0, -2.95], [-1.3, -2.75], [-2.35, -2.1], [-2.75, -1.45]];
const R2: Pt[] = [[-2.6, -1], [-2.35, -0.35], [-1.5, 0.2], [-1.45, 1.25], [-1.1, 1.7], [-0.4, 1.9], [0.2, 1.6], [0.9, 2.2], [1.34, 2.9], [2.3, 2.05], [3.05, 0.8], [3.1, -0.3], [2.65, -1.25], [1.95, -1.8], [1.1, -1.8], [0.75, -2.25], [0, -2.75], [-1.25, -2.55], [-2.2, -1.95], [-2.55, -1.4]];
const R3: Pt[] = [[-2.4, -1], [-2.2, -0.45], [-1.3, 0.05], [-1.15, 1.1], [-0.9, 1.4], [-0.4, 1.6], [0.25, 1.25], [1.0, 2], [1.34, 2.7], [2.2, 1.9], [2.9, 0.75], [2.95, -0.25], [2.5, -1.15], [1.85, -1.65], [1.05, -1.5], [0.7, -2], [0, -2.5], [-1.2, -2.35], [-2.05, -1.8], [-2.35, -1.35]];
const R4: Pt[] = [[-2.2, -1], [-2, -0.55], [-1.1, -0.1], [-0.85, 0.85], [-0.3, 1.05], [0.55, 0.95], [1, 1.1], [1.1, 2], [1.35, 2.4], [2.05, 1.8], [2.6, 0.9], [2.55, 0.5], [2.8, -0.2], [2.4, -1], [1.8, -1.45], [1.1, -1.25], [0.85, -1.0], [0.95, -1.6], [0.6, -1.95], [0, -2.3], [-1.15, -2.15], [-1.9, -1.65], [-2.15, -1.35]];
const R5: Pt[] = [[-2.05, -1], [-1.6, -0.6], [-1, -0.25], [-0.7, 0.4], [-0.35, 0.9], [0.1, 0.85], [0.7, 0.4], [0.8, 0], [0.75, -0.55], [0.4, -0.75], [0.4, -1.2], [0.9, -1.5], [0.75, -1.9], [0, -2.1], [-1.1, -2], [-1.8, -1.5]];
const R5b: Pt[] = [[1.1, 0.3], [1.5, 0.4], [2.1, 0.05], [2.65, -0.35], [2.5, -0.9], [1.9, -1.25], [1.3, -1.15], [1, -0.5]];
const R5c: Pt[] = [[1.55, 2.1], [1.9, 2.15], [2.35, 1.65], [2, 1.55], [1.6, 1.7]];
const R6: Pt[] = [[-1.25, -1], [-0.85, -0.7], [-0.45, -0.9], [-0.4, -1.4], [-0.8, -1.8], [-1.2, -1.6]];
const RU0: Pt[] = [[0.8, -1.9], [1, -2.5], [1.6, -2.55], [2.3, -2.4], [3, -1.6], [3.45, -0.6], [2.4, -1.4], [1.5, -1.8]];
const RU1: Pt[] = [[1.3, -1.9], [2.2, -2], [2.9, -1.5], [3.35, -0.7], [2.4, -1.4]];

// EPO-cis-(Ph)2
const X0: Pt[] = [[-3.45, 0.6], [-3.2, 1.34], [-2.3, 2.63], [-0.98, 3.3], [0, 3.46], [1.32, 3.28], [2.48, 2.54], [3.22, 1.25], [3.39, -0.22], [3.14, -1.33], [2.3, -2.25], [1.82, -2.52], [0.66, -2.43], [-0.32, -2.25], [-1.06, -2.2], [-1.56, -1.7], [-1.8, -0.96], [-2.46, -1.33], [-3.12, -1.14], [-3.42, -0.6]];
const X1: Pt[] = [[-3.35, 0.6], [-3.1, 1.3], [-2.25, 2.5], [-0.95, 3.2], [0, 3.35], [1.3, 3.15], [2.4, 2.45], [3.1, 1.2], [3.25, -0.25], [3, -1.25], [2.3, -1.95], [1.3, -2.05], [0.7, -1.8], [-0.2, -2.05], [-1, -2.05], [-1.45, -1.6], [-1.7, -0.6], [-2.4, -0.85], [-3.1, -0.7]];
const X2: Pt[] = [[-3.3, 0.5], [-3, 1.25], [-2.15, 2.4], [-0.9, 3.1], [0, 3.2], [1.25, 3.05], [2.3, 2.35], [3, 1.1], [3.15, -0.25], [2.9, -1.2], [2.25, -1.8], [1.3, -1.85], [0.75, -1.55], [-0.2, -1.8], [-0.95, -1.8], [-1.3, -1.3], [-1.5, -0.55], [-2.3, -0.6], [-3.05, -0.35]];
const X3: Pt[] = [[-3.2, 0.45], [-2.9, 1.2], [-2.05, 2.3], [-0.85, 3], [0, 3.1], [1.2, 2.95], [2.2, 2.25], [2.9, 1], [3.05, -0.2], [2.8, -1.15], [2.2, -1.7], [1.3, -1.7], [0.75, -1.3], [-0.1, -1.55], [-0.9, -1.55], [-1.2, -1.1], [-1.35, -0.45], [-2.2, -0.3], [-2.9, 0.1]];
const X4: Pt[] = [[-2.35, 1.9], [-1.9, 2.25], [-0.9, 2.85], [0, 2.95], [1.15, 2.8], [2.1, 2.1], [2.7, 0.8], [2.85, -0.2], [2.65, -1.05], [2.15, -1.55], [1.35, -1.55], [0.8, -1], [-0.05, -1.25], [-0.85, -1.3], [-1.15, -0.8], [-1.3, -0.1], [-2, 0.1], [-2.3, 0.9]];
const X5: Pt[] = [[-2.4, 1.9], [-2.2, 0.8], [-1.5, 0.35], [-1, 0.05], [-0.73, -0.68], [0.33, -0.87], [0.9, 0], [1.25, -0.68], [1.82, -1.33], [2.64, -0.96], [2.8, -0.3], [2.4, 0.4], [2.6, 1.2], [1.3, 2.7], [-0.5, 2.9], [-1.9, 2.4]];
const X6: Pt[] = [[-2.2, 1.9], [-1.3, 2.54], [-0.3, 2.65], [0.83, 2.63], [0.85, 2.08], [-0.32, 1.07], [-1.3, 1.16]];
const X7: Pt[] = [[-1.65, 1.9], [-1, 2.35], [-0.2, 2.5], [0.7, 2.5], [0.7, 2.15], [-0.3, 1.4], [-1.2, 1.45]];
const X8: Pt[] = [[-0.95, 2.1], [-0.5, 2.35], [-0.1, 2.35], [-0.12, 2.05], [-0.5, 1.85], [-0.85, 1.88]];
const XP: Pt[] = [[0.3, 0.9], [1, 1.7], [1.5, 0.7], [0.9, 0.4]];
const XQ: Pt[] = [[0.6, 1.1], [1, 1.5], [1.2, 0.9], [0.8, 0.8]];
const XU0: Pt[] = [[-3.3, -0.4], [-3.12, -1.14], [-2.46, -1.33], [-1.8, -0.96], [-1.7, -0.5], [-2.4, -0.7], [-3, -0.5]];
const V0: Pt[] = [[1.25, 2.35], [1.9, 1.95], [2.6, 1.1], [3.39, -0.22], [2.8, -0.25], [2, 0.35], [1.45, 1.1], [1.2, 1.8]];
const V1: Pt[] = [[1.3, 2.3], [1.9, 1.85], [2.5, 1], [2.95, -0.15], [2.75, -0.2], [2, 0.4], [1.5, 1.1], [1.27, 1.8]];
const V2: Pt[] = [[1.35, 2.2], [1.85, 1.8], [2.4, 0.95], [2.8, -0.15], [2.65, -0.15], [2.05, 0.45], [1.55, 1.1], [1.32, 1.8]];
const V3: Pt[] = [[1.4, 2], [1.8, 1.6], [2.3, 0.8], [2.6, -0.05], [2.05, 0.55], [1.6, 1.2], [1.4, 1.7]];
const V4: Pt[] = [[1.75, 1.5], [2.15, 1.05], [2.45, 0.25], [2.1, 0.5], [1.75, 1]];

// EPO-trans-(Ph)2
const W0: Pt[] = [[-3.42, 0.88], [-2.9, 0.98], [-1.95, 1.28], [-1.47, 1.9], [-0.13, 2.3], [0.06, 3.3], [0.34, 3.42], [0.92, 3.32], [2.06, 2.7], [3, 1.7], [3.45, 0.26], [3.3, -0.96], [2.73, -2.18], [2.06, -2.48], [1.68, -3], [0.34, -3.4], [-1.18, -3.3], [-2.5, -2.59], [-3.2, -1.57], [-3.42, -0.35]];
const W1: Pt[] = [[2.2, -2.4], [2.7, -2.2], [3.3, -1], [3, -1], [2.4, -1.8]];
const W2: Pt[] = [[-3.35, 0.75], [-2.9, 0.85], [-1.9, 1.15], [-1.4, 1.75], [-0.2, 2.05], [0.5, 1.95], [1.3, 2.6], [2, 2.55], [2.9, 1.6], [3.3, 0.25], [3.2, -0.9], [2.6, -1.5], [2.1, -1.85], [2.1, -2.4], [1.6, -2.9], [0.34, -3.3], [-1.15, -3.2], [-2.4, -2.5], [-3.1, -1.5], [-3.3, -0.35]];
const W3: Pt[] = [[-3.2, 0.65], [-2.8, 0.7], [-1.8, 1], [-1.3, 1.55], [-0.2, 1.85], [0.5, 1.7], [1.35, 2.4], [2, 2.35], [2.8, 1.5], [3.2, 0.25], [3.05, -0.8], [2.5, -1.3], [1.95, -1.45], [1.95, -2.2], [1.5, -2.75], [0.34, -3.15], [-1.1, -3.05], [-2.3, -2.4], [-3, -1.45], [-3.15, -0.35]];
const W4: Pt[] = [[-3.05, 0.5], [-2.7, 0.55], [-1.7, 0.85], [-1.2, 1.35], [-0.2, 1.6], [0.5, 1.45], [1.4, 2.2], [2, 2.15], [2.7, 1.4], [3.05, 0.25], [2.9, -0.7], [2.45, -1.15], [1.75, -1.25], [1.75, -1.95], [1.4, -2.55], [0.34, -2.95], [-1.05, -2.85], [-2.2, -2.25], [-2.85, -1.4], [-3, -0.35]];
const W5: Pt[] = [[-2.9, 0.3], [-2.6, 0.35], [-1.6, 0.65], [-1.1, 1.1], [-0.2, 1.3], [0.5, 1.15], [1.45, 1.9], [2, 1.9], [2.6, 1.2], [2.9, 0.25], [2.75, -0.6], [2.35, -1], [1.5, -1.05], [1.5, -1.6], [1.2, -2.2], [0.3, -2.7], [-1, -2.65], [-2.1, -2.1], [-2.7, -1.3], [-2.85, -0.35]];
const W6: Pt[] = [[-3, -0.45], [-2.5, -0.25], [-1.2, -0.25], [-0.8, 0.67], [0.34, 0.77], [0.82, 0.16], [1.68, 0.67], [2.54, 0.37], [2.8, -0.55], [1.87, -1.16], [1.1, -0.96], [0.73, -0.35], [0.34, -1.06], [0.63, -1.57], [1.5, -2.08], [1.68, -2.59], [0.34, -3.09], [-1.18, -2.9], [-1.95, -2.08], [-2.5, -1.98], [-2.85, -1.3]];
const W7: Pt[] = [[-1.18, -1.16], [-0.7, -0.86], [-0.38, -1.16], [-0.42, -1.57], [-0.9, -1.73], [-1.18, -1.43]];
const W8: Pt[] = [[-1, -2.48], [-0.42, -1.87], [0.34, -1.87], [0.63, -2.79], [-0.04, -2.79]];
const W9: Pt[] = [[-1.95, -2.18], [-1.55, -2.08], [-1.37, -2.48], [-1.75, -2.69]];

const panelNames = ["EPO-H", "EPO-Me", "EPO-(Me)2", "EPO-cis-(Me)2", "EPO-trans-(Me)2", "EPO-tBu", "EPO-CH2-nBu", "EPO-OH", "EPO-CH2-OH", "EPO-Glyc", "EPO-Ph", "EPO-(Ph)2", "EPO-cis-(Ph)2", "EPO-trans-(Ph)2", "EPO-CH2-Ph", "EPO-CF3", "EPO-C(CF3)3", "EPO-CH2F", "EPO-CH2Cl", "EPO-CH2Br", "EPO-Cycle"];
const panelRich = ["{n|EPO-H}", "{n|EPO-Me}", "{n|EPO-(Me)}{s|2}", "{n|EPO-}{i|cis}{n|-(Me)}{s|2}", "{n|EPO-}{i|trans}{n|-(Me)}{s|2}", "{n|EPO-tBu}", "{n|EPO-CH}{s|2}{n|-nBu}", "{n|EPO-OH}", "{n|EPO-CH}{s|2}{n|-OH}", "{n|EPO-Glyc}", "{n|EPO-Ph}", "{n|EPO-(Ph)}{s|2}", "{n|EPO-}{i|cis}{n|-(Ph)}{s|2}", "{n|EPO-}{i|trans}{n|-(Ph)}{s|2}", "{n|EPO-CH}{s|2}{n|-Ph}", "{n|EPO-CF}{s|3}", "{n|EPO-C(CF}{s|3}{n|)}{s|3}", "{n|EPO-CH}{s|2}{n|F}", "{n|EPO-CH}{s|2}{n|Cl}", "{n|EPO-CH}{s|2}{n|Br}", "{n|EPO-Cycle}"];

const bumpStack: Layer[] = [...under, [0.5, A0], ...bumpRings, [1.75, B5], [1.75, A5], [2, A6]];
const lobeTail: Layer[] = [[1.75, T5]];

const panelLayers: Layer[][] = [
  [...under, [0.5, B0], ...baseRings, [1.75, B5]],
  bumpStack,
  [[-1.5, DB], [0.5, D0], [0.75, D1], [1, D2], [1.25, D3], [1.5, D4], [1.75, D5], [1.75, D6], [2, D7], [1.25, E0], [1.5, E1], [1.75, E2], [2, E3], [2.25, E4], [2.5, E5], [2.75, E6], [3, E7]],
  [[-0.5, U0], [0, U1], [-1.75, UB0], [-1.25, UB1], [-1.5, SB], [0.5, S0], [0.75, S1], [1, S2], [1.25, S3], [1.5, S4], [1.75, S5], [1.75, S5b], [1.5, S5c], [1.75, S5d], [2, S6], [2.25, S7]],
  [[-0.25, RU0], [0, RU1], [0.5, R0], [0.75, R1], [1, R2], [1.25, R3], [1.5, R4], [1.75, R5], [1.75, R5b], [1.75, R5c], [2, R6]],
  [...under, [0.5, TS], ...baseRings, ...lobeTail, [1, L0], [1.25, L1], [1.5, L2], [1.75, L3], [2, L4], [2.25, L5], [2.5, L6], [2.75, L7]],
  [...under, [-1, TB0], [-0.5, TB1], [0.5, B0], ...baseRings, ...lobeTail, [2, dot], [1.25, N0], [1.5, N1], [1.75, N2], [2, N3], [2.25, N4], [2.5, N5], [2.75, N6]],
  [...under, [0.5, A0], [0.75, A1], [1, A2], [1.25, A3], [1.5, OH4], [1.75, B5]],
  [...under, [0.5, HS], ...baseRings, ...lobeTail, [1, H0], [1.25, H1], [1.5, H2], [1.75, H3], [2, H4], [2.25, H5], [2.5, H6], [2.75, H7]],
  [...under, [0.5, A0], ...bumpRings, [1.75, G5], [2, G6]],
  [...under, [0.25, PS], [0, P1], ...bumpRings, ...lobeTail, [1.25, PL0], [1.5, PL1], [1.75, PL2], [2, PL3], [2.25, PL4], [2.5, PL5]],
  [[0.5, QS], [0.75, D1], [1, D2], [1.25, D3], [1.5, D4], [1.75, D5], [1.25, Q0], [1.5, Q1], [1.75, Q2], [2, Q3], [2.25, Q4], [2.5, Q5], [2.75, Q6], [3, Q7]],
  [...under, [0.25, X0], [0.25, XU0], [0.75, X1], [1, X2], [1.25, X3], [1.5, X4], [1.75, X5], [2, X6], [2.25, X7], [2.5, X8], [1.5, XP], [1.25, XQ], [1.5, V0], [1.75, V1], [2, V2], [2.25, V3], [2.5, V4]],
  [[0.5, W0], [0, P1], [-0.25, W1], [0.75, W2], [1, W3], [1.25, W4], [1.5, W5], [1.75, W6], [2, W7], [2, W8], [1.5, W9], [1.25, PL0], [1.5, PL1], [1.75, PL2], [2, PL3], [2.25, PL4], [2.5, PL5]],
  [...under, [0.5, CS], ...baseRings, ...lobeTail, [2, dot], [1, C0], [1.25, C1], [1.5, C2], [1.75, C3], [2, C4], [2.25, C5], [2.5, C6], [2.75, C7]],
  [...under, [0.5, CFS], ...baseRings, ...lobeTail, [2, dot], [1, CF0], [1.25, CF1], [1.5, CF2], [1.75, CF3], [2, CF4], [2.25, CF5], [2.5, CF6]],
  [...under, [-0.5, KT], [0.5, KS], ...baseRings, ...lobeTail, [2, dot], [1, K0], [1.25, K1], [1.5, K2], [1.75, K3], [2, K4], [2.25, K5], [2.5, K6], [2.75, K7], [3, K8]],
  bumpStack,
  bumpStack,
  bumpStack,
  [...under, [0.5, Y0], [0.75, Y1], [1, Y2], [1.25, Y3], [1.5, Y4], [1.75, Y5], [1.75, Ly0], [2, Ly1], [2.25, Ly2], [2.5, Ly3], [2.75, Ly4], [3, Ly5]],
];

const panelOutlines: Pt[][] = [B0, A0, D0, S0, R0, TS, NS, A0, HS, A0, PS, QS, X0, W0, CS, CFS, KS, A0, A0, A0, Y0];

// [left, top, right, bottom, axis half-range, label left, label centre y]
const panelBoxes = [
  [15.5, 11, 151, 143, 4, 17, 134], [187, 11, 323.7, 143, 4, 190, 134], [359.3, 11, 496, 143, 4, 362, 134],
  [15.5, 172.7, 152, 304, 4, 18, 295], [187.7, 173, 325, 310, 4, 190, 298], [358.7, 174.7, 497, 308, 4, 366, 298],
  [15, 341, 154, 470, 4, 18, 460], [188, 341.7, 325, 472.7, 3.5, 191, 460.7], [357.7, 341, 499.3, 470, 3.5, 360, 460],
  [18, 506.7, 158, 639.3, 3.5, 22, 631.7], [189, 508, 329.7, 641, 4, 199, 631.7], [360, 508.3, 498.3, 640.7, 4, 371, 632],
  [19, 679.3, 160.7, 806, 3.5, 27, 798], [190.7, 675.7, 330.7, 806.7, 4, 189, 798], [364.3, 675.7, 497.3, 806.7, 4, 364, 798],
  [16.7, 836.7, 154.3, 968.3, 4, 22, 959], [185, 836.7, 330, 968.3, 4, 197, 959], [364.3, 838.3, 500.7, 970.7, 4, 366, 961.7],
  [16.7, 1002.3, 154.3, 1133.3, 4, 23, 1125], [192, 1002.3, 331, 1133.3, 4, 194, 1125], [365, 1001, 501.7, 1133, 4, 369, 1124],
];

const serif = "'Liberation Serif', serif";
const richStyles = {
  n: { fontFamily: serif, fontSize: 12.5, color: "#333", lineHeight: 16, verticalAlign: "middle" },
  i: { fontFamily: serif, fontSize: 12.5, fontStyle: "italic", color: "#333", lineHeight: 16, verticalAlign: "middle" },
  s: { fontFamily: serif, fontSize: 8, color: "#333", lineHeight: 9, verticalAlign: "bottom" },
};

const minusFmt = (v: number) => String(v).replace("-", "\u2212");
const colorOf = (v: number) => levelColors[levelStarts.indexOf(v)];

function buildOption() {
  const grid: any[] = [];
  const xAxis: any[] = [];
  const yAxis: any[] = [];
  const series: any[] = [];
  const title: any[] = [];
  panelNames.forEach((name, p) => {
    const [l, t, r, b, range, lx, ly] = panelBoxes[p];
    const vals = range === 4 ? ticks4 : ticks3;
    grid.push({ left: l, top: t, width: r - l, height: b - t, show: true, borderColor: "#a0a0a0", borderWidth: 1, backgroundColor: "#fff", containLabel: false });
    const axisBase = {
      type: "value", min: -range, max: range, gridIndex: p,
      axisLine: { show: false, onZero: false }, splitLine: { show: false },
      axisTick: { show: true, inside: true, length: 2, customValues: vals, lineStyle: { color: "#777", width: 0.5 } },
      axisLabel: { show: true, customValues: vals, fontSize: 5, color: "#444", margin: 2, fontFamily: "'DejaVu Sans'", formatter: minusFmt },
    };
    xAxis.push({ ...axisBase });
    yAxis.push({ ...axisBase });
    const layers = panelLayers[p];
    const outline = panelOutlines[p];
    series.push({
      type: "custom", name, xAxisIndex: p, yAxisIndex: p, coordinateSystem: "cartesian2d", silent: true,
      data: [...layers.map((ly2, i) => [ly2[0], i]), [0, layers.length]],
      renderItem: (params: any, api: any) => {
        const i = params.dataIndex;
        const isOutline = i === layers.length;
        const pts = isOutline ? outline : layers[i][1];
        return {
          type: "polygon",
          shape: { points: pts.map((q) => api.coord(q)), smooth: 0.42 },
          style: isOutline
            ? { fill: "none", stroke: "#000", lineWidth: 2.1, lineJoin: "round" }
            : { fill: colorOf(layers[i][0]), stroke: "rgba(30,25,0,0.8)", lineWidth: 0.6, lineJoin: "round" },
        };
      },
    });
    title.push({ text: panelRich[p], left: lx, top: ly - 8, padding: 0, itemGap: 0, z: 8, textStyle: { rich: richStyles, fontFamily: serif, fontSize: 12.5, fontWeight: "normal" } });
  });

  const c = panelNames.length;
  grid.push({ left: 544, top: 560, width: 22, height: 437, show: true, borderColor: "#444", borderWidth: 1.4, z: 3 });
  xAxis.push({ type: "value", min: 0, max: 1, gridIndex: c, show: false });
  yAxis.push({
    type: "value", min: -3.5, max: 3.5, gridIndex: c, position: "right",
    axisLine: { show: false, onZero: false }, splitLine: { show: false },
    axisTick: { show: true, inside: true, length: 4, customValues: colorbarTicks, lineStyle: { color: "#333", width: 1 } },
    axisLabel: { show: true, customValues: colorbarTicks, fontSize: 15, color: "#333", margin: 5, fontFamily: "'DejaVu Sans'", formatter: (v: number) => v.toFixed(2).replace("-", "\u2212") },
    z: 5,
  });
  series.push({
    type: "custom", name: "colorbar", xAxisIndex: c, yAxisIndex: c, coordinateSystem: "cartesian2d", silent: true, z: 1,
    data: levelStarts.map((v) => [0, v]),
    renderItem: (params: any, api: any) => {
      const v = levelStarts[params.dataIndex];
      const a = api.coord([0, v + 0.25]);
      const d = api.coord([1, v]);
      return { type: "rect", shape: { x: a[0], y: a[1], width: d[0] - a[0], height: d[1] - a[1] + 0.3 }, style: { fill: levelColors[params.dataIndex] } };
    },
  });
  return { animation: false, backgroundColor: "#fff", grid, xAxis, yAxis, series, title, tooltip: { show: false } };
}

export default function App() {
  const ref = useRef<HTMLDivElement>(null);
  useEffect(() => {
    const chart = echarts.init(ref.current!, undefined, { renderer: "svg" });
    chart.setOption(buildOption() as any);
    return () => chart.dispose();
  }, []);
  return <div ref={ref} style={{ position: "absolute", left: 0, top: 0, width: 620, height: 1137, filter: "blur(0.5px)" }} />;
}
